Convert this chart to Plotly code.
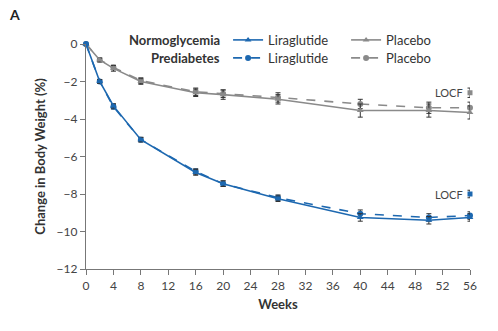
import plotly.graph_objects as go

weeks = [0, 2, 4, 8, 16, 20, 28, 40, 50, 56]
lira_normo = [0, -2.0, -3.3, -5.1, -6.85, -7.45, -8.25, -9.25, -9.4, -9.25]
lira_normo_err = [0, 0.1, 0.12, 0.12, 0.15, 0.15, 0.15, 0.2, 0.2, 0.2]
lira_pre = [0, -2.0, -3.35, -5.1, -6.8, -7.45, -8.2, -9.05, -9.25, -9.15]
lira_pre_err = [0, 0.1, 0.12, 0.12, 0.15, 0.15, 0.15, 0.2, 0.2, 0.2]
plac_normo = [0, -0.85, -1.3, -2.0, -2.6, -2.7, -2.95, -3.55, -3.55, -3.65]
plac_normo_err = [0, 0.1, 0.15, 0.15, 0.2, 0.25, 0.25, 0.35, 0.35, 0.35]
plac_pre = [0, -0.85, -1.25, -1.95, -2.55, -2.65, -2.85, -3.2, -3.4, -3.4]
plac_pre_err = [0, 0.1, 0.12, 0.15, 0.2, 0.2, 0.25, 0.25, 0.3, 0.3]

locf_week = [56]
locf_lira = [-8.0]
locf_lira_err = [0.2]
locf_plac = [-2.6]
locf_plac_err = [0.25]

x_ticks = list(range(0, 57, 4))
y_ticks = list(range(-12, 1, 2))

BLUE = "#1d68b0"
GRAY = "#8a8a8a"
ERR = "#333333"

fig = go.Figure()

def add(y, err, color, dash, symbol, name, legend):
    fig.add_trace(go.Scatter(
        x=weeks, y=y, name=name, mode="lines+markers",
        line=dict(color=color, width=1.6, dash=dash),
        marker=dict(symbol=symbol, size=6, color=color),
        error_y=dict(type="data", array=err, color=ERR, thickness=1, width=2.5),
        cliponaxis=False, legend=legend,
    ))

add(plac_pre, plac_pre_err, GRAY, "dash", "circle", "Placebo", "legend2")
add(plac_normo, plac_normo_err, GRAY, "solid", "triangle-up", "Placebo", "legend")
add(lira_pre, lira_pre_err, BLUE, "dash", "circle", "Liraglutide", "legend2")
add(lira_normo, lira_normo_err, BLUE, "solid", "triangle-up", "Liraglutide", "legend")

for y, err, color in [(locf_lira, locf_lira_err, BLUE), (locf_plac, locf_plac_err, GRAY)]:
    fig.add_trace(go.Scatter(
        x=locf_week, y=y, mode="markers", showlegend=False,
        marker=dict(symbol="square", size=5, color=color),
        error_y=dict(type="data", array=err, color=ERR, thickness=1, width=2.5),
        cliponaxis=False,
    ))
    fig.add_annotation(x=locf_week[0], y=y[0], text="LOCF", showarrow=False,
                       xanchor="right", xshift=-5, font=dict(size=11, color="#444"))

fig.add_annotation(xref="paper", yref="paper", x=0.354, y=1.018, text="<b>Normoglycemia</b>",
                   showarrow=False, xanchor="right", yanchor="middle", font=dict(size=13, color="#333"))
fig.add_annotation(xref="paper", yref="paper", x=0.354, y=0.938, text="<b>Prediabetes</b>",
                   showarrow=False, xanchor="right", yanchor="middle", font=dict(size=13, color="#333"))
fig.add_annotation(xref="paper", yref="paper", x=-0.205, y=1.133, text="<b>A</b>",
                   showarrow=False, xanchor="left", yanchor="middle", font=dict(size=14, color="#222"))

axis_common = dict(showgrid=False, zeroline=False, showline=True, linecolor="#777",
                   linewidth=1.2, ticks="outside", tickcolor="#777", ticklen=5,
                   tickfont=dict(size=12, color="#444"))

leg_common = dict(orientation="h", x=0.37, xanchor="left", yanchor="middle",
                  traceorder="reversed", entrywidth=73, font=dict(size=13, color="#333"),
                  bgcolor="rgba(0,0,0,0)", itemwidth=30)

fig.update_layout(
    width=498, height=331,
    margin=dict(l=86, r=28, t=44, b=62),
    paper_bgcolor="white", plot_bgcolor="white",
    font=dict(family="Lato", color="#333"),
    xaxis=dict(range=[0, 56], tickvals=x_ticks,
               title=dict(text="<b>Weeks</b>", font=dict(size=13), standoff=8), **axis_common),
    yaxis=dict(range=[-12, 0], tickvals=y_ticks, ticktext=[("−" + str(-v)) if v < 0 else str(v) for v in y_ticks],
               title=dict(text="<b>Change in Body Weight (%)</b>", font=dict(size=13), standoff=8), **axis_common),
    legend=dict(y=1.018, **leg_common),
    legend2=dict(y=0.938, **leg_common),
    showlegend=True,
)

fig.write_html("out.html")
